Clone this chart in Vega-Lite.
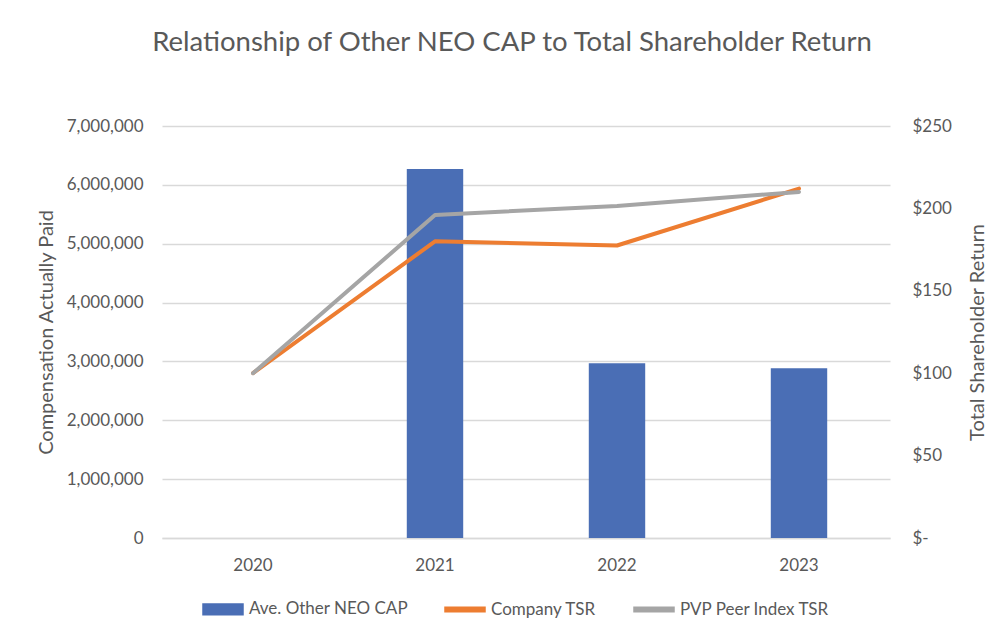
{
  "$schema": "https://vega.github.io/schema/vega-lite/v6.json",
  "width": 728,
  "height": 412,
  "autosize": {"type": "none"},
  "padding": {"left": 162, "top": 126, "right": 117, "bottom": 98},
  "background": "white",
  "config": {
    "font": "Lato",
    "view": {"stroke": null},
    "axis": {"labelColor": "#595959", "titleColor": "#595959", "labelFontSize": 17, "titleFontSize": 20, "titleFontWeight": "normal", "labelFont": "Lato", "titleFont": "Lato"},
    "legend": {"labelColor": "#595959", "labelFontSize": 17, "labelFont": "Lato"}
  },
  "title": {"text": "Relationship of Other NEO CAP to Total Shareholder Return", "fontSize": 27.5, "font": "Lato", "fontWeight": "normal", "color": "#595959", "offset": 61, "anchor": "middle", "dx": -14},
  "datasets": {
    "cap": [
      {"year": "2021", "series": "Ave. Other NEO CAP", "value": 6270000},
      {"year": "2022", "series": "Ave. Other NEO CAP", "value": 2970000},
      {"year": "2023", "series": "Ave. Other NEO CAP", "value": 2885000}
    ],
    "tsr": [
      {"year": "2020", "series": "Company TSR", "tsr": 100},
      {"year": "2021", "series": "Company TSR", "tsr": 180},
      {"year": "2022", "series": "Company TSR", "tsr": 177.5},
      {"year": "2023", "series": "Company TSR", "tsr": 212},
      {"year": "2020", "series": "PVP Peer Index TSR", "tsr": 100},
      {"year": "2021", "series": "PVP Peer Index TSR", "tsr": 196},
      {"year": "2022", "series": "PVP Peer Index TSR", "tsr": 201.5},
      {"year": "2023", "series": "PVP Peer Index TSR", "tsr": 210}
    ]
  },
  "encoding": {
    "x": {
      "field": "year", "type": "nominal",
      "scale": {"domain": ["2020", "2021", "2022", "2023"], "paddingInner": 0.69, "paddingOuter": 0.345},
      "axis": {"title": null, "labelAngle": 0, "ticks": false, "domainColor": "#d9d9d9", "domainWidth": 1.5, "labelPadding": 19}
    }
  },
  "layer": [
    {
      "data": {"name": "cap"},
      "mark": {"type": "bar", "color": "#4A6EB5"},
      "encoding": {
        "y": {
          "field": "value", "type": "quantitative",
          "scale": {"domain": [0, 7000000], "nice": false},
          "axis": {"title": "Compensation Actually Paid", "orient": "left", "values": [0, 1000000, 2000000, 3000000, 4000000, 5000000, 6000000, 7000000], "format": ",d", "domain": false, "ticks": false, "gridColor": "#d9d9d9", "gridWidth": 1.5, "labelPadding": 19, "titlePadding": 10}
        },
        "color": {
          "field": "series", "type": "nominal",
          "scale": {"domain": ["Ave. Other NEO CAP", "Company TSR", "PVP Peer Index TSR"], "range": ["#4A6EB5", "#ED7D31", "#A5A5A5"]},
          "legend": {
            "title": null, "orient": "none", "direction": "horizontal", "legendX": 40, "legendY": 462,
            "symbolSize": 1600, "labelOffset": 5, "columnPadding": 34,
            "encode": {
              "symbols": {
                "update": {
                  "shape": {"signal": "datum.value === 'Ave. Other NEO CAP' ? 'M-1,-0.265H1V0.265H-1Z' : 'M-1,-0.11H1V0.11H-1Z'"},
                  "fill": {"scale": "color", "field": "value"},
                  "stroke": {"value": "transparent"},
                  "opacity": {"value": 1}
                }
              }
            }
          }
        }
      }
    },
    {
      "data": {"name": "tsr"},
      "mark": {"type": "line", "strokeWidth": 4, "strokeJoin": "round", "strokeCap": "round"},
      "encoding": {
        "y": {
          "field": "tsr", "type": "quantitative",
          "scale": {"domain": [0, 250], "nice": false},
          "axis": {"title": "Total Shareholder Return", "orient": "right", "values": [0, 50, 100, 150, 200, 250], "labelExpr": "datum.value == 0 ? '$-' : '$' + datum.value", "grid": false, "domain": false, "ticks": false, "labelPadding": 22, "titlePadding": 36, "titleAngle": 270, "labelAlign": "left"}
        },
        "color": {"field": "series", "type": "nominal"},
        "order": {"field": "series", "sort": "descending"}
      }
    }
  ],
  "resolve": {"scale": {"y": "independent"}}
}
